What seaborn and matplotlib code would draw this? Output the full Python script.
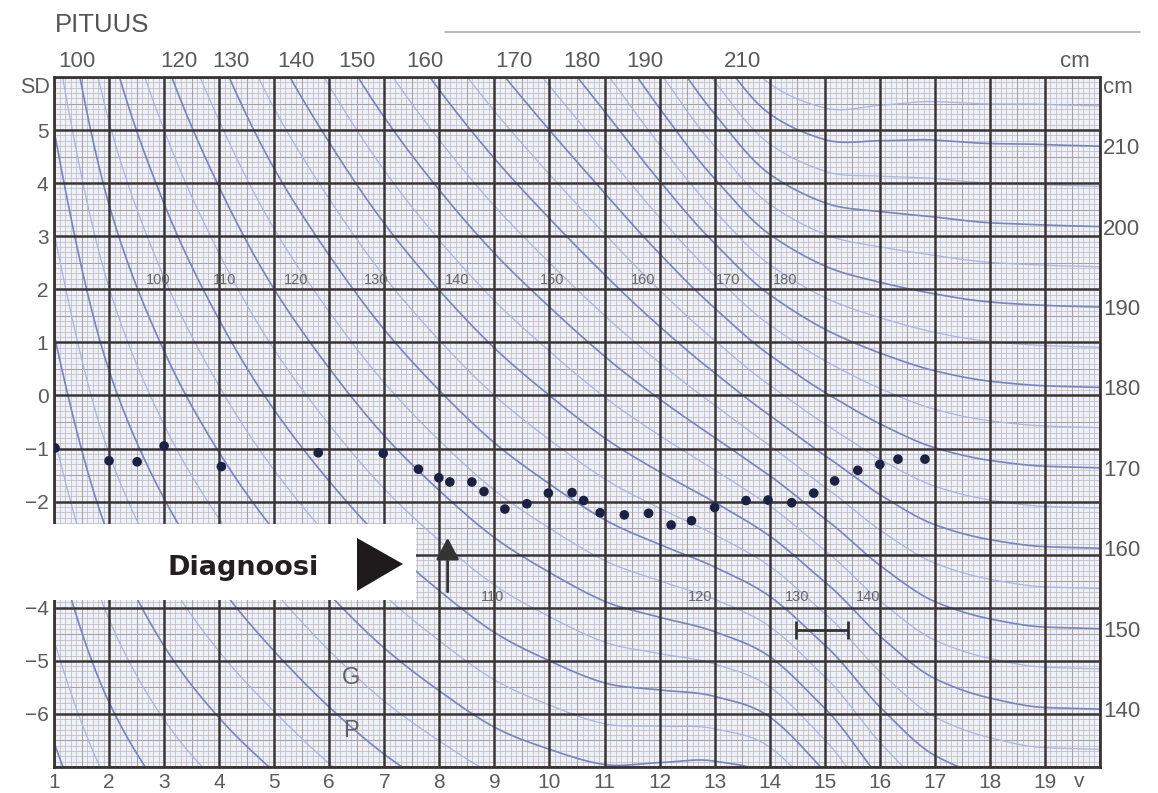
import numpy as np
import pandas as pd
import matplotlib
matplotlib.use("Agg")
import matplotlib.pyplot as plt
from matplotlib.lines import Line2D
from matplotlib.patches import Rectangle, Polygon
import seaborn as sns

# ---------------------------------------------------------------
# Reference height of boys by age: mean (cm) and standard deviation (cm)
ref_age = [1, 2, 3, 4, 5, 6, 7, 8, 9, 10, 11, 12, 13, 14, 15, 16, 17, 18, 19, 20]
ref_mean = [77.0, 88.5, 97.0, 104.3, 111.2, 117.6, 123.8, 129.5, 135.0, 140.0,
            145.2, 150.5, 156.5, 163.3, 169.5, 174.0, 176.8, 178.2, 178.8, 179.0]
ref_sd = [2.6, 3.2, 3.6, 4.0, 4.4, 4.7, 5.0, 5.3, 5.6, 6.0,
          6.5, 7.3, 8.2, 8.8, 8.4, 7.5, 6.9, 6.7, 6.6, 6.6]

# Iso-height curves (cm)
curve_heights = [60, 65, 70, 75, 80, 85, 90, 95, 100, 105, 110, 115, 120, 125,
                 130, 135, 140, 145, 150, 155, 160, 165, 170, 175, 180, 185,
                 190, 195, 200, 205, 210, 215]

# Patient's measurements: age (years) and height SD score
visit_age = [1.02, 2.0, 2.51, 3.0, 4.04, 5.8, 6.98, 7.62, 7.99, 8.19, 8.59, 8.81,
             9.19, 9.59, 9.98, 10.41, 10.62, 10.92, 11.36, 11.8, 12.21, 12.58,
             13.0, 13.57, 13.97, 14.4, 14.8, 15.18, 15.6, 16.0, 16.33, 16.82]
visit_sd = [-0.99, -1.23, -1.25, -0.95, -1.34, -1.08, -1.09, -1.39, -1.55, -1.63,
            -1.63, -1.81, -2.14, -2.04, -1.84, -1.83, -1.98, -2.21, -2.25, -2.22,
            -2.44, -2.36, -2.11, -1.98, -1.97, -2.02, -1.84, -1.61, -1.41, -1.3,
            -1.2, -1.2]

# Axis labels
age_ticks = list(range(1, 20))
sd_ticks = [5, 4, 3, 2, 1, 0, -1, -2, -3, -4, -5, -6]
adult_heights = [210, 200, 190, 180, 170, 160, 150, 140]
top_labels = ["100", "120", "130", "140", "150", "160", "170", "180", "190", "210"]
upper_curve_labels = ["100", "110", "120", "130", "140", "150", "160", "170", "180"]
lower_curve_labels = ["110", "120", "130", "140"]


def pchip(x, y, xn):
    """Shape preserving cubic Hermite interpolation."""
    x = np.asarray(x, float)
    y = np.asarray(y, float)
    h = np.diff(x)
    d = np.diff(y) / h
    m = np.zeros_like(y)
    for k in range(1, len(y) - 1):
        if d[k - 1] * d[k] > 0:
            w1 = 2 * h[k] + h[k - 1]
            w2 = h[k] + 2 * h[k - 1]
            m[k] = (w1 + w2) / (w1 / d[k - 1] + w2 / d[k])
    m[0], m[-1] = d[0], d[-1]
    idx = np.clip(np.searchsorted(x, xn) - 1, 0, len(h) - 1)
    t = (xn - x[idx]) / h[idx]
    h00 = 2 * t**3 - 3 * t**2 + 1
    h10 = t**3 - 2 * t**2 + t
    h01 = -2 * t**3 + 3 * t**2
    h11 = t**3 - t**2
    return (h00 * y[idx] + h10 * h[idx] * m[idx]
            + h01 * y[idx + 1] + h11 * h[idx] * m[idx + 1])


# Iso-height curves in SD-score space
grid_age = np.linspace(1, 20, 700)
mean_f = pchip(ref_age, ref_mean, grid_age)
sd_f = pchip(ref_age, ref_sd, grid_age)
rows = []
for hgt in curve_heights:
    z = (hgt - mean_f) / sd_f
    rows.append(pd.DataFrame({"age": grid_age, "sd": z, "height": hgt,
                              "tens": hgt % 10 == 0}))
curves = pd.concat(rows, ignore_index=True)
visits = pd.DataFrame({"age": visit_age, "sd": visit_sd})

sns.set_theme(style="white")
plt.rcParams["font.family"] = ["Liberation Sans", "DejaVu Sans"]
plt.rcParams["axes.unicode_minus"] = True

W, H = 1158, 793
fig = plt.figure(figsize=(W / 100, H / 100), dpi=100)
fig.patch.set_facecolor("white")


def fx(px):
    return px / W


def fy(py):
    return 1 - py / H


ax = fig.add_axes([fx(54), fy(767), fx(1100) - fx(54), fy(77) - fy(767)])
ax.set_facecolor("#ecf1fa")
XMIN, XMAX, YMIN, YMAX = 1, 20, -7, 6

# fine graph-paper grid
minor_x = np.arange(XMIN, XMAX + 1e-9, 0.1)
minor_y = np.arange(YMIN, YMAX + 1e-9, 0.1)
ax.vlines(minor_x, YMIN, YMAX, color="#c4b9bd", lw=0.55, zorder=1)
ax.hlines(minor_y, XMIN, XMAX, color="#c4b9bd", lw=0.55, zorder=1)
ax.vlines(np.arange(XMIN, XMAX, 1) + 0.5, YMIN, YMAX, color="#ab9fa3", lw=0.75, zorder=1)
ax.hlines(np.arange(YMIN, YMAX, 1) + 0.5, XMIN, XMAX, color="#ab9fa3", lw=0.75, zorder=1)

# iso-height curves
sns.lineplot(data=curves[~curves["tens"]], x="age", y="sd", units="height",
             estimator=None, sort=False, color="#aab4de", lw=0.9, ax=ax,
             legend=False, zorder=2)
sns.lineplot(data=curves[curves["tens"]], x="age", y="sd", units="height",
             estimator=None, sort=False, color="#7883bf", lw=1.2, ax=ax,
             legend=False, zorder=2)

# heavy yearly / SD lines
ax.vlines(np.arange(XMIN, XMAX + 1), YMIN, YMAX, color="#3b3434", lw=1.8, zorder=3)
ax.hlines(np.arange(YMIN, YMAX + 1), XMIN, XMAX, color="#3b3434", lw=1.8, zorder=3)

# patient's growth
sns.scatterplot(data=visits, x="age", y="sd", color="#1c2043", s=48,
                edgecolor="none", ax=ax, zorder=5, legend=False)

ax.set_xlim(XMIN, XMAX)
ax.set_ylim(YMIN, YMAX)
ax.set_xlabel("")
ax.set_ylabel("")
for sp in ax.spines.values():
    sp.set_color("#3b3434")
    sp.set_linewidth(2)

lab_col = "#5b5b5b"
ax.set_xticks(age_ticks)
ax.set_xticklabels([str(a) for a in age_ticks], fontsize=15, color=lab_col)
ax.set_yticks(sd_ticks)
ax.set_yticklabels([str(s).replace("-", "\u2212") for s in sd_ticks],
                   fontsize=15, color=lab_col)
ax.tick_params(axis="both", length=0, pad=4)
for lab in ax.get_xticklabels():
    lab.set_x(lab.get_position()[0])
ax.text(19.62, YMIN - 0.1, "v", ha="center", va="top", fontsize=15, color=lab_col)
ax.text(0.93, 5.8, "SD", ha="right", va="center", fontsize=15.5, color=lab_col)

# adult height scale on the right
ax2 = ax.twinx()
ax2.set_ylim(YMIN, YMAX)
ax2.set_yticks([(h - ref_mean[-1]) / ref_sd[-1] for h in adult_heights])
ax2.set_yticklabels([str(h) for h in adult_heights], fontsize=16, color=lab_col)
ax2.tick_params(axis="y", length=0, pad=2)
ax2.grid(False)
for sp in ax2.spines.values():
    sp.set_visible(False)
ax2.text(20.05, 5.8, "cm", ha="left", va="center", fontsize=16, color=lab_col)

# heights at the top edge
top_x = [1.42, 3.27, 4.22, 5.4, 6.51, 7.73, 9.36, 10.58, 11.73, 13.51]
for lab, x in zip(top_labels, top_x):
    ax.text(x, 6.09, lab, ha="center", va="bottom", fontsize=16, color=lab_col,
            clip_on=False)
ax.text(19.55, 6.09, "cm", ha="center", va="bottom", fontsize=16, color=lab_col,
        clip_on=False)

# curve labels inside the chart
up_x = [2.9, 4.09, 5.39, 6.85, 8.33, 10.05, 11.7, 13.24, 14.28]
for lab, x in zip(upper_curve_labels, up_x):
    ax.text(x, 2.17, lab, ha="center", va="center", fontsize=10.5,
            color="#666666", zorder=4)
low_x = [8.97, 12.73, 14.49, 15.78]
for lab, x in zip(lower_curve_labels, low_x):
    ax.text(x, -3.8, lab, ha="center", va="center", fontsize=10.5,
            color="#666666", zorder=4)

ax.text(6.4, -5.32, "G", ha="center", va="center", fontsize=17, color="#606060", zorder=4)
ax.text(6.4, -6.32, "P", ha="center", va="center", fontsize=17, color="#606060", zorder=4)

# diagnosis marker and duration bar
ax.annotate("", xy=(8.15, -2.63), xytext=(8.15, -3.75),
            arrowprops=dict(arrowstyle="-|>,head_length=0.6,head_width=0.32",
                            mutation_scale=22, lw=2, color="#333333"),
            zorder=6)
ax.errorbar(14.95, -4.41, xerr=0.47, fmt="none", ecolor="#333333",
            elinewidth=2, capsize=6.5, capthick=2, zorder=6)

# title and header rule
fig.text(fx(55), fy(25), "PITUUS", ha="left", va="center", fontsize=18.5,
         color="#555555")
fig.add_artist(Line2D([fx(445), fx(1140)], [fy(32), fy(32)], color="#b3aca6",
                      lw=1.2, transform=fig.transFigure))

# "Diagnoosi" callout
fig.add_artist(Rectangle((0, fy(600)), fx(416), fy(524) - fy(600),
                         transform=fig.transFigure, facecolor="white",
                         edgecolor="none", zorder=20))
fig.add_artist(Polygon([(fx(357), fy(538)), (fx(357), fy(591)), (fx(403), fy(564))],
                       closed=True, transform=fig.transFigure,
                       facecolor="#1f1b1c", edgecolor="none", zorder=21))
fig.text(fx(168), fy(575), "Diagnoosi", ha="left", va="baseline",
         fontsize=19.5, fontweight="bold", family=["DejaVu Sans"],
         color="#231f20", zorder=22)

fig.savefig("out.png", dpi=100, facecolor="white")
